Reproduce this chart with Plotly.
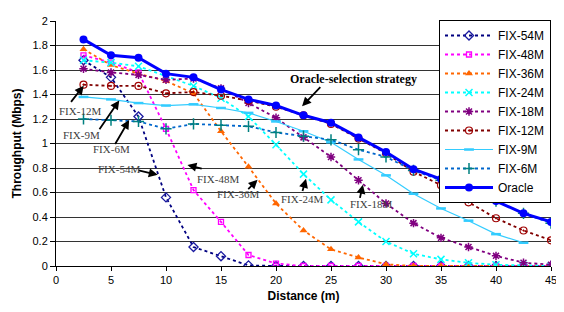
import plotly.graph_objects as go

distance = [2.5, 5, 7.5, 10, 12.5, 15, 17.5, 20, 22.5, 25, 27.5, 30, 32.5, 35, 37.5, 40, 42.5, 45]

fix54 = [1.68, 1.54, 1.22, 0.56, 0.155, 0.08, 0.005, 0, 0, 0, 0, 0, 0, 0, 0, 0, 0, 0]
fix48 = [1.72, 1.66, 1.58, 1.12, 0.62, 0.36, 0.09, 0.02, 0, 0, 0, 0, 0, 0, 0, 0, 0, 0]
fix36 = [1.77, 1.64, 1.57, 1.51, 1.41, 1.10, 0.81, 0.51, 0.29, 0.136, 0.07, 0.014, 0, 0, 0, 0, 0, 0]
fix24 = [1.68, 1.66, 1.63, 1.55, 1.47, 1.37, 1.22, 0.99, 0.75, 0.54, 0.36, 0.20, 0.10, 0.054, 0.026, 0.01, 0.005, 0.0]
fix18 = [1.61, 1.58, 1.56, 1.52, 1.53, 1.45, 1.33, 1.21, 1.05, 0.89, 0.70, 0.51, 0.35, 0.23, 0.155, 0.083, 0.027, 0.01]
fix12 = [1.48, 1.47, 1.47, 1.41, 1.42, 1.39, 1.35, 1.30, 1.23, 1.16, 1.04, 0.92, 0.77, 0.66, 0.52, 0.39, 0.29, 0.21]
fix9 = [1.38, 1.36, 1.33, 1.31, 1.32, 1.29, 1.25, 1.18, 1.10, 1.01, 0.87, 0.74, 0.59, 0.47, 0.37, 0.26, 0.19, None]
fix6 = [1.20, 1.19, 1.18, 1.12, 1.16, 1.15, 1.14, 1.09, 1.06, 1.03, 0.95, 0.89, 0.78, 0.70, 0.61, 0.53, 0.43, 0.35]
oracle = [1.85, 1.72, 1.70, 1.57, 1.54, 1.44, 1.36, 1.31, 1.23, 1.17, 1.05, 0.93, 0.79, 0.71, 0.61, 0.53, 0.43, 0.36]

series_names = ["FIX-54M", "FIX-48M", "FIX-36M", "FIX-24M", "FIX-18M", "FIX-12M", "FIX-9M", "FIX-6M", "Oracle"]
series_values = [fix54, fix48, fix36, fix24, fix18, fix12, fix9, fix6, oracle]

styles = [
    dict(line=dict(color="#000080", width=1.8, dash="dot"),
         marker=dict(symbol="diamond-open", size=7, color="#1a1aa0", line=dict(width=1.3))),
    dict(line=dict(color="#FF00FF", width=1.8, dash="dot"),
         marker=dict(symbol="square-open", size=5, color="#FF00FF", line=dict(width=1.3))),
    dict(line=dict(color="#FF6600", width=1.8, dash="dot"),
         marker=dict(symbol="triangle-up", size=7, color="#FF6600")),
    dict(line=dict(color="#00FFFF", width=1.8, dash="dot"),
         marker=dict(symbol="x-thin-open", size=7, color="#00FFFF", line=dict(width=1.5, color="#00FFFF"))),
    dict(line=dict(color="#800080", width=1.8, dash="dot"),
         marker=dict(symbol="asterisk-open", size=7, color="#800080", line=dict(width=1.5, color="#800080"))),
    dict(line=dict(color="#800000", width=1.8, dash="dot"),
         marker=dict(symbol="circle-open-dot", size=7, color="#A00000", line=dict(width=1.2))),
    dict(line=dict(color="#33CCFF", width=1.2),
         marker=dict(symbol="line-ew-open", size=7, color="#33CCFF", line=dict(width=2.5, color="#33CCFF"))),
    dict(line=dict(color="#0066CC", width=1.8, dash="dot"),
         marker=dict(symbol="cross-thin-open", size=8, color="#008080", line=dict(width=1.5, color="#008080"))),
    dict(line=dict(color="#0000FF", width=3),
         marker=dict(symbol="circle", size=8, color="#0000FF")),
]

fig = go.Figure()
for name, vals, st in zip(series_names, series_values, styles):
    fig.add_trace(go.Scatter(x=distance, y=vals, name=name, mode="lines+markers",
                             connectgaps=False, **st))

# annotation layout: (text, text_x, text_y, tail_x, tail_y, head_x, head_y, bold)
annots = [
    ("Oracle-selection strategy", 27.04, 1.528, 24.16, 1.472, 22.37, 1.304, True),
    ("FIX-12M", 2.16, 1.264, 1.26, 1.328, 2.52, 1.472, False),
    ("FIX-9M", 2.34, 1.072, 3.86, 1.104, 5.75, 1.352, False),
    ("FIX-6M", 5.03, 0.952, 5.30, 0.984, 6.65, 1.192, False),
    ("FIX-54M", 5.70, 0.792, 7.37, 0.784, 9.25, 0.744, False),
    ("FIX-48M", 14.73, 0.712, 13.38, 0.792, 11.95, 0.824, False),
    ("FIX-36M", 16.53, 0.584, 17.34, 0.616, 18.32, 0.704, False),
    ("FIX-24M", 22.37, 0.544, 22.37, 0.600, 22.73, 0.712, False),
    ("FIX-18M", 28.6, 0.504, 27.6, 0.544, 27.9, 0.664, False),
]
for txt, tx, ty, ax, ay, hx, hy, bold in annots:
    fig.add_annotation(x=hx, y=hy, ax=ax, ay=ay, xref="x", yref="y", axref="x", ayref="y",
                       text="", showarrow=True, arrowhead=2, arrowsize=1, arrowwidth=1.8,
                       arrowcolor="black")
    fig.add_annotation(x=tx, y=ty, xref="x", yref="y", showarrow=False,
                       text=("<b>%s</b>" % txt) if bold else txt,
                       font=dict(family="Liberation Serif", size=12 if bold else 11,
                                 color="black" if bold else "#404040"))

# page body has an 8px default margin, so the figure is 8px smaller and margins shifted
fig.update_layout(
    width=556, height=304,
    margin=dict(l=48, r=7, t=8, b=46),
    paper_bgcolor="white", plot_bgcolor="white",
    font=dict(family="Liberation Sans, Arial", size=11, color="black"),
    showlegend=True,
    legend=dict(x=1.0, xanchor="right", y=1.004, yanchor="top",
                bgcolor="white", bordercolor="black", borderwidth=1,
                font=dict(family="Liberation Sans, Arial", size=12, color="black"),
                tracegroupgap=0, itemwidth=48, entrywidth=94, maxheight=290),
)
fig.update_xaxes(range=[0, 45], tickmode="linear", tick0=0, dtick=5,
                 showline=True, linecolor="black", linewidth=1,
                 ticks="outside", ticklen=4, tickcolor="black",
                 showgrid=False, zeroline=False,
                 title=dict(text="<b>Distance (m)</b>", font=dict(size=12), standoff=6))
fig.update_yaxes(range=[0, 2], tickmode="linear", tick0=0, dtick=0.2,
                 showline=True, linecolor="black", linewidth=1,
                 ticks="outside", ticklen=5, tickcolor="black",
                 showgrid=True, gridcolor="#333333", gridwidth=1, zeroline=False,
                 title=dict(text="<b>Throughput (Mbps)</b>", font=dict(size=12), standoff=8))

fig.write_html("out.html")
